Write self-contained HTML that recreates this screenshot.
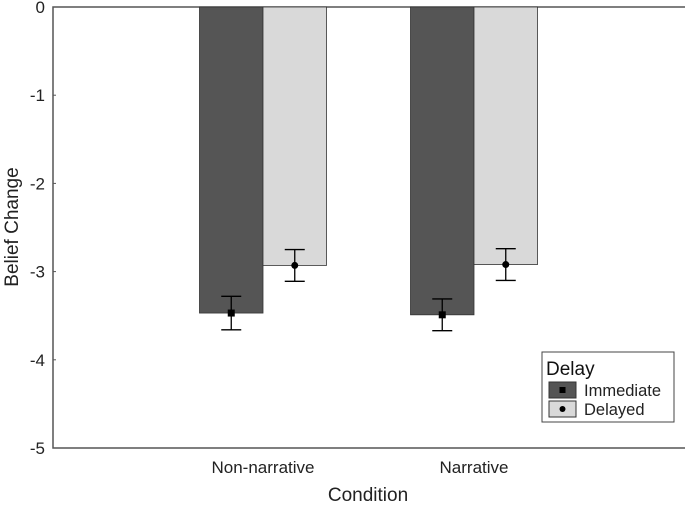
<!DOCTYPE html>
<html><head><style>body{margin:0;background:#fff}svg{display:block;font-family:"Liberation Sans",Arial,sans-serif}</style></head>
<body>
<svg id="c" width="685" height="505"></svg>
<script>
const categories=["Non-narrative","Narrative"];
const immediate=[-3.47,-3.49];
const delayed=[-2.93,-2.92];
const immErr=[0.19,0.18];
const delErr=[0.18,0.18];
const yTicks=[0,-1,-2,-3,-4,-5];
const NS="http://www.w3.org/2000/svg";
const svg=document.getElementById('c');
const L=53,R=685,T=7,B=448;
const y=v=>T+(0-v)/5*(B-T);
const catCenter=[263,474];
const bw=63.5;
function mk(t,a,p){const e=document.createElementNS(NS,t);for(const k in a)e.setAttribute(k,a[k]);(p||svg).appendChild(e);return e;}
const ax=mk('path',{d:`M${R} ${T}H${L}V${B}H${R}`,fill:'none',stroke:'#555','stroke-width':1.5});


yTicks.forEach(v=>{
 const tk=mk('line',{x1:L,x2:L+3,y1:y(v),y2:y(v),stroke:'#555'});
 
 
 const t=mk('text',{x:45,y:y(v)+6,'text-anchor':'end','font-size':17,fill:'#222'});t.textContent=v;
 
 
});
categories.forEach((c,i)=>{
 const cx=catCenter[i];
 [[immediate,immErr,'#555555',-1,'square'],[delayed,delErr,'#d9d9d9',0,'circle']].forEach(([vals,errs,col,off,shape])=>{
  const v=vals[i],x0=cx+off*bw;
  const b=mk('rect',{x:x0,y:T,width:bw,height:y(v)-T,fill:col,stroke:'#333','stroke-width':0.8});
  
  
  const mx=x0+bw/2,e=errs[i];
  const eb=mk('path',{d:`M${mx} ${y(v+e)}V${y(v-e)}M${mx-10} ${y(v+e)}H${mx+10}M${mx-10} ${y(v-e)}H${mx+10}`,stroke:'#000','stroke-width':1.3,fill:'none'});
  
  
  const m=shape==='square'?mk('rect',{x:mx-3.5,y:y(v)-3.5,width:7,height:7,fill:'#000'}):mk('circle',{cx:mx,cy:y(v),r:3.5,fill:'#000'});
  
  
 });
 const t=mk('text',{x:cx,y:473,'text-anchor':'middle','font-size':17,fill:'#222'});t.textContent=c;
 
 
});
const xt=mk('text',{x:368,y:501,'text-anchor':'middle','font-size':19,fill:'#222'});xt.textContent='Condition';


const yt=mk('text',{x:0,y:0,'text-anchor':'middle','font-size':19,fill:'#222',transform:'translate(18,227) rotate(-90)'});yt.textContent='Belief Change';


const g=mk('g',{});


mk('rect',{x:542,y:352,width:132,height:70,fill:'#fff',stroke:'#444','stroke-width':1},g);
mk('text',{x:546,y:375,'font-size':19,fill:'#111'},g).textContent='Delay';
mk('rect',{x:549,y:382,width:27,height:16,fill:'#555',stroke:'#333'},g);
mk('rect',{x:559.5,y:387,width:6,height:6,fill:'#000'},g);
mk('text',{x:584,y:396,'font-size':16.5,fill:'#222'},g).textContent='Immediate';
mk('rect',{x:549,y:401,width:27,height:16,fill:'#d9d9d9',stroke:'#333'},g);
mk('circle',{cx:562.5,cy:409,r:3,fill:'#000'},g);
mk('text',{x:584,y:415,'font-size':16.5,fill:'#222'},g).textContent='Delayed';
</script>
</body></html>
